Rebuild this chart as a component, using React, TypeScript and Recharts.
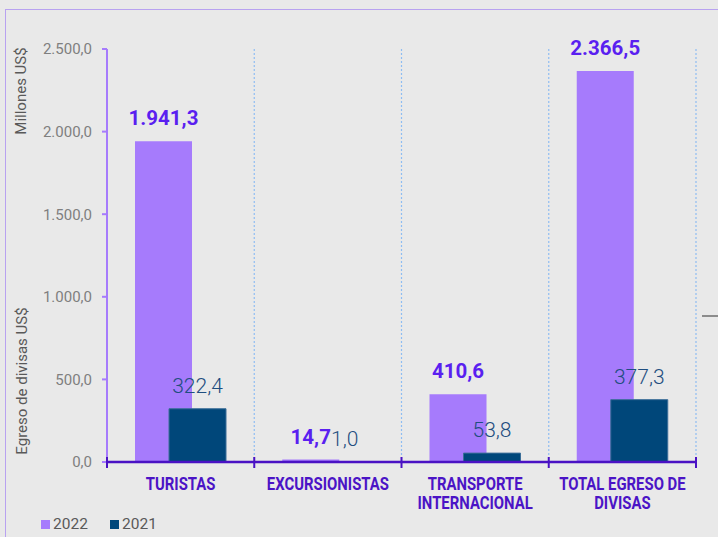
import React from 'react';
import { BarChart, Bar, XAxis, YAxis, CartesianGrid, LabelList } from 'recharts';

const categories = ['TURISTAS', 'EXCURSIONISTAS', 'TRANSPORTE INTERNACIONAL', 'TOTAL EGRESO DE DIVISAS'];
const categoryLines = [['TURISTAS'], ['EXCURSIONISTAS'], ['TRANSPORTE', 'INTERNACIONAL'], ['TOTAL EGRESO DE', 'DIVISAS']];
const values2022 = [1941.3, 14.7, 410.6, 2366.5];
const values2021 = [322.4, 1.0, 53.8, 377.3];
const yTicks = [0, 500, 1000, 1500, 2000, 2500];

const data = categories.map((name, i) => ({
  name,
  v2022: values2022[i],
  v2021: values2021[i],
}));

// 1941.3 -> "1.941,3"
const fmt = (v: number) => {
  const [int, dec] = Number(v).toFixed(1).split('.');
  return int.replace(/\B(?=(\d{3})+(?!\d))/g, '.') + ',' + dec;
};

const PURPLE = '#a67bfc';
const NAVY = '#00477a';
const AXIS_DARK = '#4a12c4';
const FONT = 'Roboto, "Noto Sans", sans-serif';

// category label (condensed Roboto bold) + boundary tick marks between the bands
const CategoryTick = (props: any) => {
  const { x, y, index, payload, visibleTicksCount } = props;
  const lines: string[] = categoryLines[index] || [];
  const half = payload && payload.offset ? payload.offset : 0;
  const tick = (tx: number, k: string) => (
    <line key={k} x1={tx} x2={tx} y1={y - 5} y2={y + 6} stroke={AXIS_DARK} strokeWidth={2} />
  );
  return (
    <g>
      {tick(x - half, 'l')}
      {index === visibleTicksCount - 1 ? tick(x + half, 'r') : null}
      <g transform={`translate(${x} ${y}) scale(0.85 1)`}>
        {lines.map((l, i) => (
          <text
            key={i}
            x={0}
            y={28.5 + i * 19}
            textAnchor="middle"
            fill="#4b14c6"
            fontFamily={FONT}
            fontWeight={700}
            fontSize={17.5}
          >
            {l}
          </text>
        ))}
      </g>
    </g>
  );
};

// dotted guides on the band edges
const bandEdges = ({ xAxis, offset }: any) => {
  const n = categories.length;
  const s = xAxis && xAxis.scale;
  let starts: number[] = [];
  let bw = 0;
  try {
    if (s && typeof s.bandwidth === 'function') {
      bw = s.bandwidth();
      starts = categories.map((c) => (typeof s === 'function' ? s(c) : s.map(c)));
    }
  } catch (e) {
    starts = [];
  }
  if (!starts.length || starts.some((v) => typeof v !== 'number' || isNaN(v))) {
    bw = offset.width / n;
    starts = categories.map((_, i) => offset.left + i * bw);
  }
  return [...starts, starts[n - 1] + bw];
};

const rotated = (cx: number, cy: number): React.CSSProperties => ({
  position: 'absolute',
  left: cx,
  top: cy,
  transform: 'translate(-50%, -50%) rotate(-90deg)',
  whiteSpace: 'nowrap',
  fontFamily: FONT,
  fontSize: 15,
  color: '#595959',
  lineHeight: '15px',
});

const legendText: React.CSSProperties = {
  position: 'absolute',
  top: 517,
  fontFamily: FONT,
  fontSize: 15.5,
  lineHeight: '15px',
  color: '#595959',
};

export default function App() {
  return (
    <div
      style={{
        position: 'absolute',
        left: 0,
        top: 0,
        width: 718,
        height: 537,
        overflow: 'hidden',
        background: '#e9e9e9',
      }}
    >
      <div
        style={{
          position: 'absolute',
          left: 5,
          top: 9,
          width: 800,
          height: 600,
          border: '1.5px solid #b8a2f0',
        }}
      />
      <div style={{ position: 'absolute', left: 702, top: 315, width: 16, height: 1.5, background: '#8c8c8c' }} />
      <div style={{ position: 'absolute', left: 0, top: 0 }}>
        <BarChart
          width={718}
          height={537}
          data={data}
          margin={{ top: 49, right: 22, left: 0, bottom: 0 }}
          barGap={-23}
        >
          <CartesianGrid
            horizontal={false}
            vertical
            verticalCoordinatesGenerator={bandEdges}
            stroke="#8fbdf2"
            strokeWidth={1.2}
            strokeDasharray="2 2"
          />
          <XAxis
            dataKey="name"
            height={75}
            axisLine={{ stroke: AXIS_DARK, strokeWidth: 2.5 }}
            tickLine={false}
            tickSize={0}
            tickMargin={0}
            tick={<CategoryTick />}
            interval={0}
          />
          <YAxis
            width={107}
            domain={[0, 2500]}
            ticks={yTicks}
            tickFormatter={fmt}
            axisLine={{ stroke: PURPLE, strokeWidth: 2 }}
            tickLine={{ stroke: PURPLE, strokeWidth: 2 }}
            tickSize={5}
            tickMargin={10}
            tick={{ fill: '#7f7f7f', fontSize: 15, fontFamily: FONT }}
          />
          <Bar dataKey="v2022" fill={PURPLE} barSize={57} isAnimationActive={false}>
            <LabelList
              dataKey="v2022"
              position="top"
              offset={16}
              formatter={(v: any) => fmt(v)}
              fill="#5a1ff0"
              fontFamily={FONT}
              fontWeight={700}
              fontSize={20.5}
            />
          </Bar>
          <Bar dataKey="v2021" fill={NAVY} stroke="#3c6e98" strokeWidth={1} barSize={57} isAnimationActive={false}>
            <LabelList
              dataKey="v2021"
              position="top"
              offset={16}
              formatter={(v: any) => fmt(v)}
              fill="#1f4e80"
              fontFamily={FONT}
              fontWeight={300}
              fontSize={21}
            />
          </Bar>
        </BarChart>
      </div>
      <div style={rotated(21, 91)}>Millones US$</div>
      <div style={rotated(22, 381)}>Egreso de divisas US$</div>
      <div style={{ position: 'absolute', left: 41, top: 520, width: 9, height: 9, background: PURPLE }} />
      <div style={{ ...legendText, left: 53 }}>2022</div>
      <div style={{ position: 'absolute', left: 110, top: 520, width: 9, height: 9, background: NAVY }} />
      <div style={{ ...legendText, left: 122 }}>2021</div>
    </div>
  );
}
